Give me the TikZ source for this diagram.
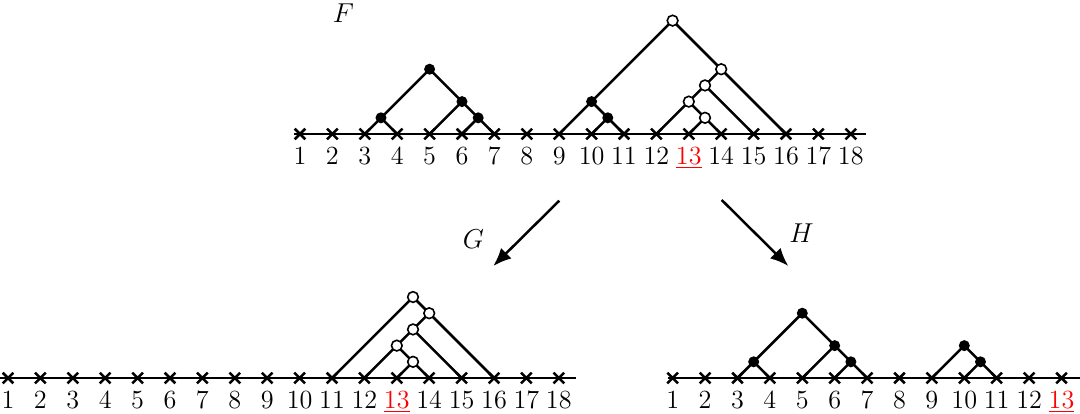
\documentclass[tikz,border=0pt]{standalone}
\usetikzlibrary{arrows.meta,calc,shapes.misc}
\begin{document}
\begin{tikzpicture}[x=0.5cm,y=0.5cm,
  font=\fontsize{11.5}{14}\selectfont,
  edge/.style={line width=1.1pt},
  axisline/.style={line width=0.9pt},
  leaf/.style={draw,cross out,line width=1.1pt,minimum size=0.165cm,inner sep=0pt,outer sep=0pt},
  fdot/.style={circle,fill=black,minimum size=0.17cm,inner sep=0pt},
  odot/.style={circle,draw=black,fill=white,line width=0.7pt,minimum size=0.165cm,inner sep=0pt},
  lab/.style={anchor=base,inner sep=0pt},
  bigarrow/.style={line width=1.1pt,-{Latex[length=2.8mm,width=2.3mm]}}]
\useasboundingbox (0,0) rectangle (33.333,12.747);

% ---------- axes and leaves ----------
\foreach \i in {1,...,18} {
  \node[leaf] (T\i) at ({9.259+\i-1},8.611) {};
  \node[leaf] (L\i) at ({0.247+\i-1},1.080) {};
}
\foreach \i in {1,...,13} {
  \node[leaf] (R\i) at ({20.762+\i-1},1.080) {};
}
\coordinate (Ta) at ($(T1.center)+(-0.2,0)$);
\coordinate (Tb) at ($(T18.center)+(0.47,0)$);
\coordinate (La) at (0,1.080);
\coordinate (Lb) at ($(L18.center)+(0.53,0)$);
\coordinate (Ra) at ($(R1.center)+(-0.15,0)$);
\coordinate (Rb) at (33.333,1.080);
\draw[axisline] (Ta) -- (Tb);
\draw[axisline] (La) -- (Lb);
\draw[axisline] (Ra) -- (Rb);

% labels
\foreach \i in {1,...,12,14,15,16,17,18} {
  \node[lab] (TL\i) at ($(T\i.center)+(0,-0.926)$) {\i};
  \node[lab] (LL\i) at ($(L\i.center)+(0,-0.926)$) {\i};
}
\foreach \i in {1,...,12} {
  \node[lab] (RL\i) at ($(R\i.center)+(0,-0.926)$) {\i};
}
\node[lab] (TL13) at ($(T13.center)+(0,-0.926)$) {\color{red}\underline{13}};
\node[lab] (LL13) at ($(L13.center)+(0,-0.926)$) {\color{red}\underline{13}};
\node[lab] (RL13) at ($(R13.center)+(0,-0.926)$) {\color{red}\underline{13}};

% ---------- top forest F ----------
\coordinate (t34) at ($(T3.center)+(0.5,0.5)$);
\coordinate (t67) at ($(T6.center)+(0.5,0.5)$);
\coordinate (t57) at ($(T5.center)+(1,1)$);
\coordinate (t37) at ($(T3.center)+(2,2)$);
\coordinate (t916) at ($(T9.center)+(3.5,3.5)$);
\coordinate (t911) at ($(T9.center)+(1,1)$);
\coordinate (t1011) at ($(T10.center)+(0.5,0.5)$);
\coordinate (t1216) at ($(T12.center)+(2,2)$);
\coordinate (t1215) at ($(T12.center)+(1.5,1.5)$);
\coordinate (t1214) at ($(T12.center)+(1,1)$);
\coordinate (t1314) at ($(T13.center)+(0.5,0.5)$);
\draw[edge] (T3.center) -- (t34) -- (t37);
\draw[edge] (T7.center) -- (t67) -- (t57) -- (t37);
\draw[edge] (T4.center) -- (t34);
\draw[edge] (T5.center) -- (t57);
\draw[edge] (T6.center) -- (t67);
\draw[edge] (T9.center) -- (t911) -- (t916);
\draw[edge] (T16.center) -- (t1216) -- (t916);
\draw[edge] (T11.center) -- (t1011) -- (t911);
\draw[edge] (T10.center) -- (t1011);
\draw[edge] (T12.center) -- (t1214) -- (t1215) -- (t1216);
\draw[edge] (T15.center) -- (t1215);
\draw[edge] (T14.center) -- (t1314) -- (t1214);
\draw[edge] (T13.center) -- (t1314);
\foreach \c in {t34,t67,t57,t37,t911,t1011} \node[fdot] (n\c) at (\c) {};
\foreach \c in {t916,t1216,t1215,t1214,t1314} \node[odot] (n\c) at (\c) {};

% ---------- bottom left ----------
\coordinate (l1116) at ($(L11.center)+(2.5,2.5)$);
\coordinate (l1216) at ($(L12.center)+(2,2)$);
\coordinate (l1215) at ($(L12.center)+(1.5,1.5)$);
\coordinate (l1214) at ($(L12.center)+(1,1)$);
\coordinate (l1314) at ($(L13.center)+(0.5,0.5)$);
\draw[edge] (L11.center) -- (l1116);
\draw[edge] (L16.center) -- (l1216) -- (l1116);
\draw[edge] (L12.center) -- (l1214) -- (l1215) -- (l1216);
\draw[edge] (L15.center) -- (l1215);
\draw[edge] (L14.center) -- (l1314) -- (l1214);
\draw[edge] (L13.center) -- (l1314);
\foreach \c in {l1116,l1216,l1215,l1214,l1314} \node[odot] (n\c) at (\c) {};

% ---------- bottom right ----------
\coordinate (r34) at ($(R3.center)+(0.5,0.5)$);
\coordinate (r67) at ($(R6.center)+(0.5,0.5)$);
\coordinate (r57) at ($(R5.center)+(1,1)$);
\coordinate (r37) at ($(R3.center)+(2,2)$);
\coordinate (r911) at ($(R9.center)+(1,1)$);
\coordinate (r1011) at ($(R10.center)+(0.5,0.5)$);
\draw[edge] (R3.center) -- (r34) -- (r37);
\draw[edge] (R7.center) -- (r67) -- (r57) -- (r37);
\draw[edge] (R4.center) -- (r34);
\draw[edge] (R5.center) -- (r57);
\draw[edge] (R6.center) -- (r67);
\draw[edge] (R9.center) -- (r911);
\draw[edge] (R11.center) -- (r1011) -- (r911);
\draw[edge] (R10.center) -- (r1011);
\foreach \c in {r34,r67,r57,r37,r911,r1011} \node[fdot] (n\c) at (\c) {};

% ---------- arrows and labels ----------
\coordinate (G1) at (17.262,6.553);
\coordinate (G2) at (15.225,4.537);
\coordinate (H1) at (22.275,6.574);
\coordinate (H2) at (24.330,4.537);
\draw[bigarrow] (G1) -- (G2);
\draw[bigarrow] (H1) -- (H2);
\node (Fl) at (10.60,12.337) {$F$};
\node (Gl) at (14.61,5.361) {$G$};
\node (Hl) at (24.74,5.546) {$H$};
\end{tikzpicture}
\end{document}
